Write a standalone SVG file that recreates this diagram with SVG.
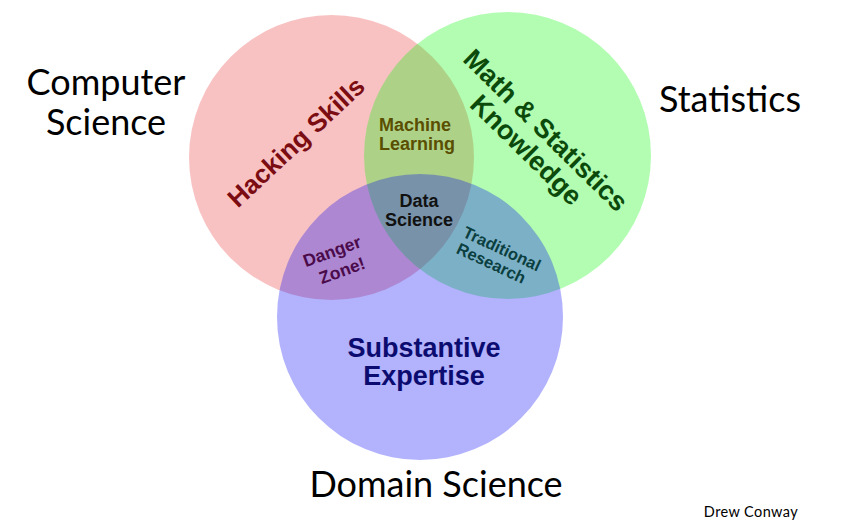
<svg xmlns="http://www.w3.org/2000/svg" width="847" height="532" viewBox="0 0 847 532">
<style>
.lbl{font-family:Lato,"Open Sans","Liberation Sans",sans-serif;fill:#000;text-anchor:middle;}
.in{font-family:"Liberation Sans",Arial,Helvetica,sans-serif;font-weight:bold;text-anchor:middle;}
</style>
<rect width="847" height="532" fill="#ffffff"/>
<g id="node-computer-science">
<circle cx="331.5" cy="157.5" r="142.5" fill="#e00000" fill-opacity="0.24"/>
</g>
<g id="node-statistics">
<circle cx="507.5" cy="155.5" r="143.5" fill="#00f800" fill-opacity="0.3"/>
</g>
<g id="node-domain-science">
<circle cx="420" cy="317" r="143" fill="#0000f8" fill-opacity="0.3"/>
</g>
<g id="connectors"></g>
<g id="label-hacking" transform="translate(296,142) rotate(-43)">
<text class="in" x="0" y="9" font-size="26" fill="#7b0c12">Hacking Skills</text>
</g>
<g id="label-math" transform="translate(546,130) rotate(44.5)">
<text class="in" x="0" y="9.5" font-size="27" fill="#0b4a0b">Math &amp; Statistics</text>
<text class="in" x="0" y="37.2" font-size="27" fill="#0b4a0b">Knowledge</text>
</g>
<g id="label-machine-learning">
<text class="in" x="415" y="131" font-size="18" fill="#5a4e00">Machine</text>
<text class="in" x="417" y="150" font-size="18" fill="#5a4e00">Learning</text>
</g>
<g id="label-data-science">
<text class="in" x="419" y="207" font-size="18" fill="#111111">Data</text>
<text class="in" x="419" y="225.5" font-size="18" fill="#111111">Science</text>
</g>
<g id="label-danger" transform="translate(334,257) rotate(-20)">
<text class="in" x="0" y="0" font-size="17.5" fill="#4b0b4b">Danger</text>
<text class="in" x="3" y="21.5" font-size="17.5" fill="#4b0b4b">Zone!</text>
</g>
<g id="label-traditional" transform="translate(499.5,254) rotate(25)">
<text class="in" x="0" y="0" font-size="16.5" fill="#0b3f3f">Traditional</text>
<text class="in" x="-3.6" y="17.5" font-size="16.5" fill="#0b3f3f">Research</text>
</g>
<g id="label-substantive">
<text class="in" x="424" y="357" font-size="27" fill="#0c0c70">Substantive</text>
<text class="in" x="424" y="385" font-size="27" fill="#0c0c70">Expertise</text>
</g>
<g id="title-computer-science">
<text class="lbl" x="106" y="95" font-size="36">Computer</text>
<text class="lbl" x="106" y="135" font-size="36">Science</text>
</g>
<g id="title-statistics">
<text class="lbl" x="730" y="112" font-size="36">Statistics</text>
</g>
<g id="title-domain-science">
<text class="lbl" x="436" y="497" font-size="36">Domain Science</text>
</g>
<g id="credit">
<text class="lbl" x="751" y="517" font-size="14.5" letter-spacing="0.4">Drew Conway</text>
</g>
</svg>
